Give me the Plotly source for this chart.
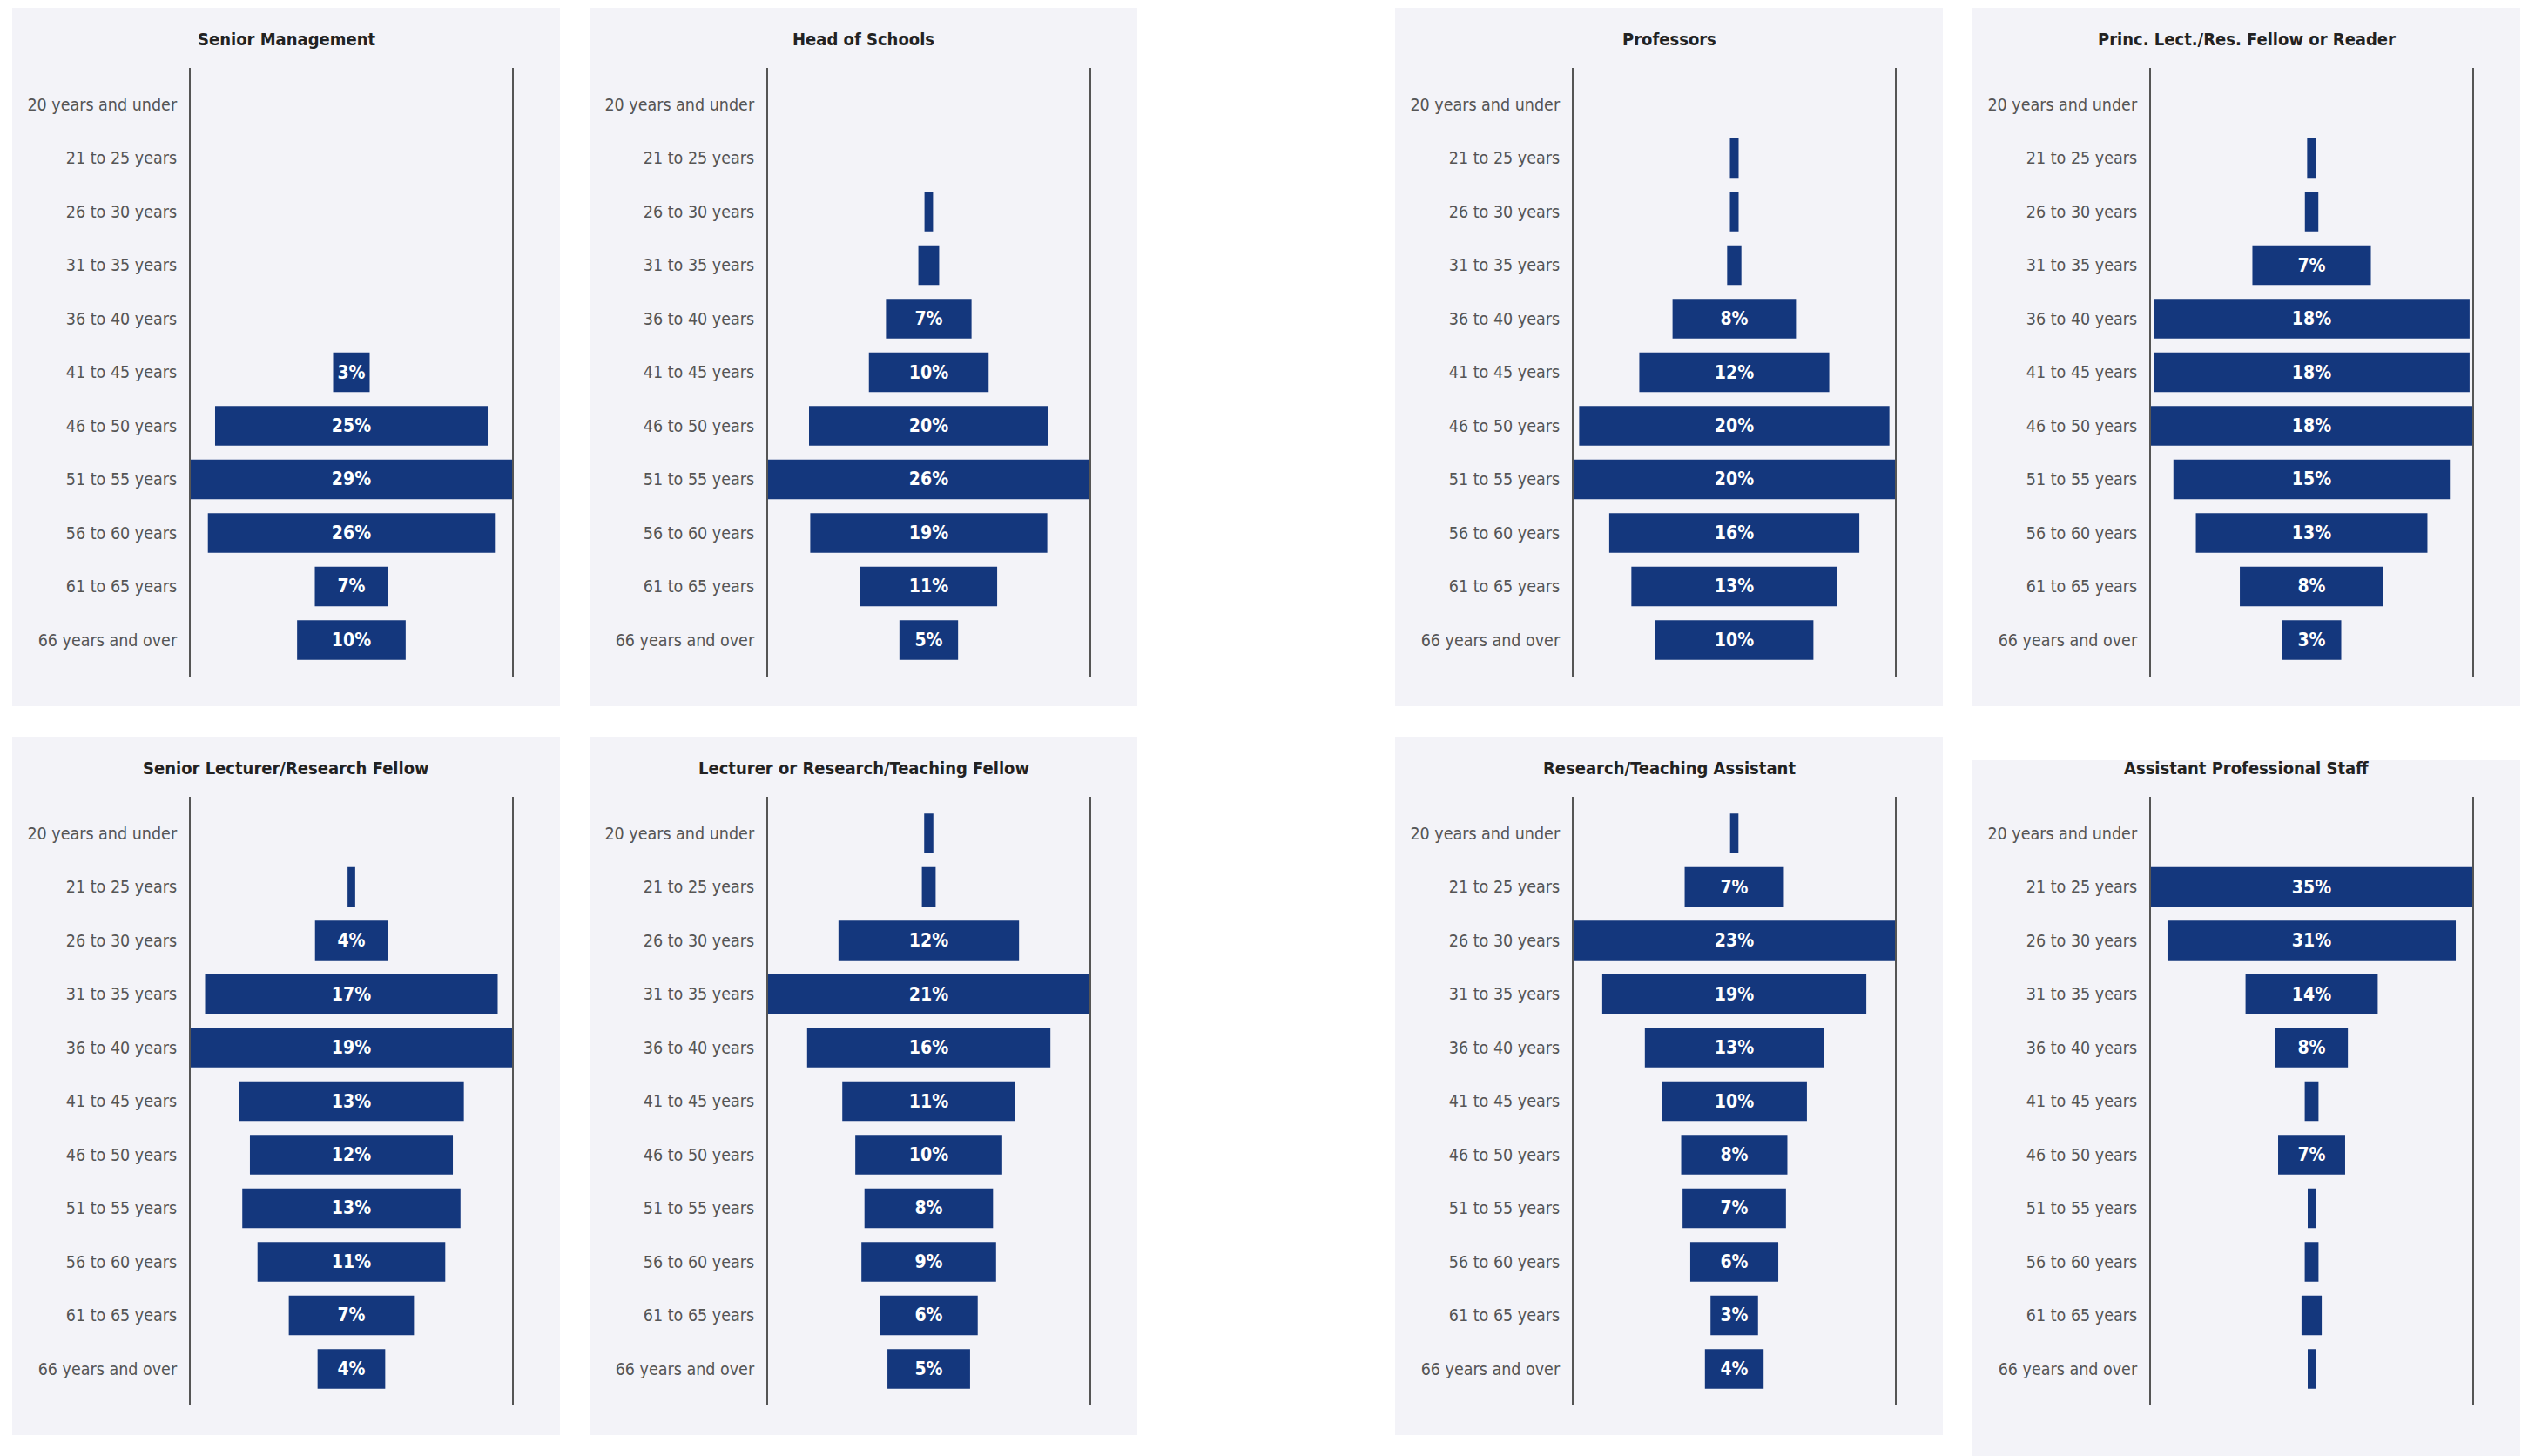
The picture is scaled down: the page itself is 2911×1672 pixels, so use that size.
import plotly.graph_objects as go

W, H = 2911, 1672
OFF = 8  # browser body margin

ages = ["20 years and under", "21 to 25 years", "26 to 30 years", "31 to 35 years",
        "36 to 40 years", "41 to 45 years", "46 to 50 years", "51 to 55 years",
        "56 to 60 years", "61 to 65 years", "66 years and over"]

titles = ["Senior Management", "Head of Schools", "Professors",
          "Princ. Lect./Res. Fellow or Reader", "Senior Lecturer/Research Fellow",
          "Lecturer or Research/Teaching Fellow", "Research/Teaching Assistant",
          "Assistant Professional Staff"]

senior_management = [0, 0, 0, 0, 0, 3.3, 24.6, 29.0, 25.9, 6.6, 9.8]
head_of_schools = [0, 0, 0.7, 1.7, 7.0, 9.8, 19.6, 26.3, 19.4, 11.2, 4.8]
professors = [0, 0.55, 0.55, 0.9, 7.8, 12.0, 19.6, 20.3, 15.8, 13.0, 10.0]
princ_lect = [0, 0.5, 0.75, 6.6, 17.6, 17.6, 17.9, 15.4, 12.9, 8.0, 3.3]
senior_lecturer = [0, 0.45, 4.3, 17.3, 19.0, 13.3, 12.0, 12.9, 11.1, 7.4, 4.0]
lecturer = [0.6, 0.9, 11.8, 21.0, 15.9, 11.3, 9.6, 8.4, 8.8, 6.4, 5.4]
research_assistant = [0.6, 7.1, 23.0, 18.9, 12.8, 10.4, 7.6, 7.4, 6.3, 3.4, 4.2]
assistant_prof = [0, 35.0, 31.4, 14.4, 7.9, 1.5, 7.3, 0.85, 1.5, 2.2, 0.85]

series = [senior_management, head_of_schools, professors, princ_lect,
          senior_lecturer, lecturer, research_assistant, assistant_prof]

FONT = "Liberation Sans Narrow, DejaVu Sans Condensed, Roboto, sans-serif"
BAR = "#14377d"
BG = "#f3f3f8"

col_left = [14 - OFF, 677 - OFF, 1602 - OFF, 2265 - OFF]
row_top = [9 - OFF, 846 - OFF]
PW, PH = 629, 802

fig = go.Figure()
shapes, annotations = [], []

for i, (title, vals) in enumerate(zip(titles, series)):
    r, c = divmod(i, 4)
    left, top = col_left[c], row_top[r]
    bg_top, bg_bot = top, top + PH
    if i == 7:
        bg_top, bg_bot = 873 - OFF, H
    shapes.append(dict(type="rect", xref="paper", yref="paper", layer="below",
                       x0=left / W, x1=(left + PW) / W,
                       y0=1 - bg_bot / H, y1=1 - bg_top / H,
                       fillcolor=BG, line=dict(width=0)))
    annotations.append(dict(xref="paper", yref="paper", x=(left + PW / 2) / W,
                            y=1 - (top + 36) / H, text=title, showarrow=False,
                            xanchor="center", yanchor="middle",
                            font=dict(family=FONT, size=20, color="#222222", weight="bold")))
    m = max(vals)
    ax = "" if i == 0 else str(i + 1)
    texts = [f"{int(v + 0.5)}%" if v >= 2.5 else "" for v in vals]
    fig.add_trace(go.Bar(
        y=ages, x=vals, base=[-v / 2 for v in vals], orientation="h",
        marker=dict(color=BAR, line=dict(width=0)), width=0.74,
        text=texts, textposition="inside", insidetextanchor="middle", textangle=0,
        textfont=dict(family=FONT, size=21, color="white", weight="bold"),
        hoverinfo="skip", showlegend=False,
        xaxis="x" + ax, yaxis="y" + ax))
    x0, x1 = left + 205, left + 574
    y0, y1 = top + 69, top + 768
    fig.layout["xaxis" + ax] = dict(domain=[x0 / W, x1 / W], range=[-m / 2, m / 2],
                                    visible=False, anchor="y" + ax, fixedrange=True)
    fig.layout["yaxis" + ax] = dict(domain=[1 - y1 / H, 1 - y0 / H], anchor="x" + ax,
                                    type="category", categoryorder="array", categoryarray=ages,
                                    range=[10.683, -0.683], showline=True, mirror=True,
                                    linecolor="#555555", linewidth=2, showgrid=False,
                                    zeroline=False, ticks="", ticklabelstandoff=10,
                                    tickfont=dict(family=FONT, size=19.5, color="#555555"),
                                    fixedrange=True)

fig.update_layout(width=W, height=H, margin=dict(l=0, r=0, t=0, b=0),
                  paper_bgcolor="white", plot_bgcolor="rgba(0,0,0,0)",
                  shapes=shapes, annotations=annotations, bargap=0.26,
                  uniformtext=dict(mode="show", minsize=21))

fig.write_html("out.html")
